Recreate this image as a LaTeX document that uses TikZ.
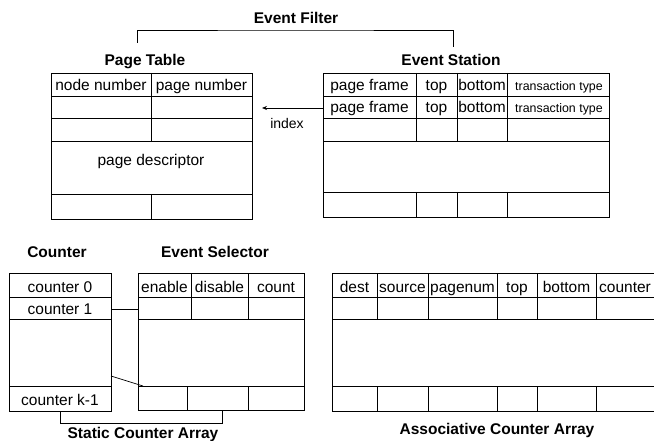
\documentclass[tikz,border=0pt]{standalone}
\usepackage{fontspec}
\setmainfont{Liberation Sans}
\usetikzlibrary{arrows.meta}

\tikzset{
  tbl/.style={draw, rectangle, line width=1pt, anchor=north west, inner sep=0pt},
  title/.style={font=\fontsize{15.5}{18}\selectfont\bfseries, inner sep=0pt, anchor=base},
  cell/.style={font=\fontsize{15.5}{18}\selectfont, inner sep=0pt, anchor=base},
  smallcell/.style={font=\fontsize{12.4}{14}\selectfont, inner sep=0pt, anchor=base},
  sep/.style={line width=0.7pt},
  link/.style={line width=0.7pt},
}

\begin{document}
\begin{tikzpicture}[x=1pt, y=-1pt]
	\useasboundingbox (0,0) rectangle (654,441);

	% event filter bracket
	\node[title] (filt) at (296,23.5) {Event Filter};
	\coordinate (fl) at (137,43);
	\coordinate (fr) at (453,47);
	\draw[link] (fl) |- (filt.south |- 0,30) -| (fr);

	% page table
	\node[title] (ptlab) at (145,65.5) {Page Table};
	\node[tbl, minimum width=201pt, minimum height=146pt] (ptab) at (51,73) {};
	\foreach \y in {96,118,141,194}
		\draw[sep] (51,\y) -- (252,\y);
	\draw[sep] (151,73) -- (151,141);
	\draw[sep] (151,194) -- (151,219);
	\node[cell] (ptnode) at (101,90.5) {node number};
	\node[cell] (ptpage) at (201.5,90.5) {page number};
	\node[cell] (ptdesc) at (151,166) {page descriptor};

	% event station
	\node[title] (eslab) at (451,65.5) {Event Station};
	\node[tbl, minimum width=286pt, minimum height=144pt] (est) at (323,73) {};
	\foreach \y in {96,118,141,192}
		\draw[sep] (323,\y) -- (609,\y);
	\foreach \x in {416,457,507} {
		\draw[sep] (\x,73) -- (\x,141);
		\draw[sep] (\x,192) -- (\x,217);
	}
	\foreach \y/\n in {90.5/a,112.5/b} {
		\node[cell] (esframe\n) at (369.5,\y) {page frame};
		\node[cell] (estop\n) at (436.5,\y) {top};
		\node[cell] (esbot\n) at (482,\y) {bottom};
		\node[smallcell] (estype\n) at (559,\y) {transaction type};
	}

	% index arrow
	\coordinate (idxs) at (est.west |- 0,108);
	\coordinate (idxe) at (262,108);
	\draw[-{Stealth[length=5pt,width=4pt]}, link] (idxs) -- (idxe);
	\node[cell, font=\fontsize{14}{16}\selectfont] (idx) at (287,129) {index};

	% counter
	\node[title] (cntlab) at (57,258) {Counter};
	\node[tbl, minimum width=102pt, minimum height=138pt] (cnt) at (9,273) {};
	\foreach \y in {297,319,386}
		\draw[sep] (9,\y) -- (111,\y);
	\node[cell] (cnt0) at (60,292.5) {counter 0};
	\node[cell] (cnt1) at (60,314) {counter 1};
	\node[cell] (cntk) at (60,405.5) {counter k-1};

	% event selector
	\node[title] (sellab) at (215,258) {Event Selector};
	\node[tbl, minimum width=166pt, minimum height=137pt] (sel) at (138,273) {};
	\foreach \y in {297,319,386}
		\draw[sep] (138,\y) -- (304,\y);
	\draw[sep] (191,273) -- (191,319);
	\draw[sep] (248,273) -- (248,319);
	\draw[sep] (187,386) -- (187,410);
	\draw[sep] (248,386) -- (248,410);
	\node[cell] (selen) at (164.5,292.5) {enable};
	\node[cell] (seldis) at (219.5,292.5) {disable};
	\node[cell] (selcnt) at (276,292.5) {count};

	% links counter -> selector
	\coordinate (ca) at (111,309);
	\coordinate (sa) at (138,309);
	\coordinate (cb) at (111,376);
	\coordinate (sb) at (143,386);
	\draw[link] (ca) -- (sa);
	\draw[link] (cb) -- (sb);

	% static counter array bracket
	\coordinate (sl) at (60,411);
	\coordinate (sr) at (222,410);
	\draw[link] (sl) -- (60,423) -- (222,423) -- (sr);
	\node[title] (statlab) at (143,438) {Static Counter Array};

	% associative counter array
	\node[inner sep=0pt, minimum width=322pt, minimum height=138pt, anchor=north west] (acnt) at (332,273) {};
	\draw[line width=1pt] (acnt.north east) -- (acnt.north west) -- (acnt.south west) -- (acnt.south east);
	\foreach \y in {297,319,386}
		\draw[sep] (332,\y) -- (654,\y);
	\foreach \x in {377,428,497,537,596} {
		\draw[sep] (\x,273) -- (\x,319);
		\draw[sep] (\x,386) -- (\x,411);
	}
	\node[cell] (acdest) at (354.5,292.5) {dest};
	\node[cell] (acsrc) at (402.5,292.5) {source};
	\node[cell] (acpage) at (462.5,292.5) {pagenum};
	\node[cell] (actop) at (517,292.5) {top};
	\node[cell] (acbot) at (566.5,292.5) {bottom};
	\node[cell] (accnt) at (625,292.5) {counter};
	\node[title] (aclab) at (497,434) {Associative Counter Array};
\end{tikzpicture}
\end{document}
